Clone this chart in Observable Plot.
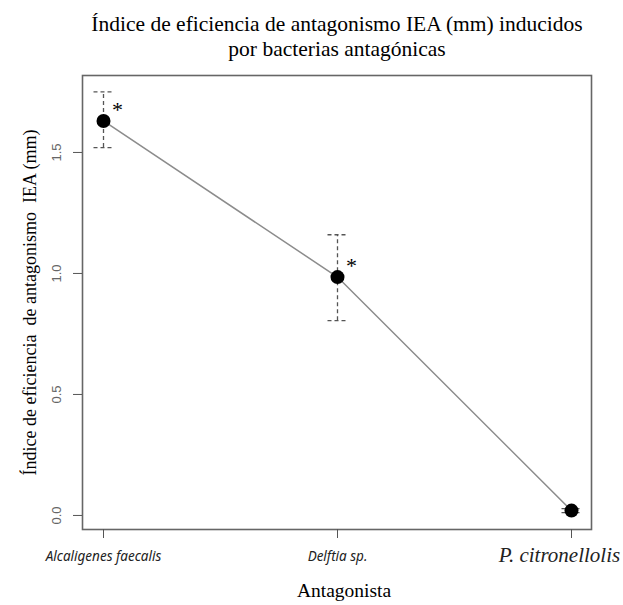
<!DOCTYPE html>
<html><head><meta charset="utf-8">
<script src="https://cdn.jsdelivr.net/npm/d3@7"></script>
<script src="https://cdn.jsdelivr.net/npm/@observablehq/plot@0.6"></script>
<style>body{margin:0;background:#fff}</style>
</head><body><div id="chart"></div>
<script>
const antagonists = ["Alcaligenes faecalis", "Delftia sp.", "P. citronellolis"];
const means = [1.63, 0.985, 0.02];
const lower = [1.52, 0.805, 0.012];
const upper = [1.75, 1.16, 0.028];
const signif = [true, true, false];
const yTicks = [0, 0.5, 1.0, 1.5];
const titleLines = ["Índice de eficiencia de antagonismo IEA (mm) inducidos", "por bacterias antagónicas"];
const yLabel = "Índice de eficiencia  de antagonismo  IEA (mm)";
const xLabel = "Antagonista";

const data = antagonists.map((a, i) => ({a, m: means[i], lo: lower[i], hi: upper[i], s: signif[i]}));
const cap = {draw(ctx, size) { const r = 10; ctx.moveTo(-r, 0); ctx.lineTo(r, 0); }};
const serif = "'Liberation Serif', 'Times New Roman', serif";

const chart = Plot.plot({
  width: 623,
  height: 605,
  marginLeft: 82,
  marginRight: 32,
  marginTop: 75,
  marginBottom: 76,
  style: {background: "#fff", color: "#000"},
  x: {type: "point", domain: antagonists, padding: 0.083},
  y: {domain: [-0.058, 1.818]},
  marks: [
    Plot.frame({stroke: "#666", strokeWidth: 1.6}),
    Plot.axisY(yTicks, {tickSize: 9, tickRotate: -90, tickPadding: 13, tickFormat: d3.format(".1f"),
      label: null, fontSize: 13, fontFamily: "'Liberation Sans', Arial, sans-serif", fill: "#666", stroke: "#555"}),
    Plot.axisX({tickSize: 9, tickFormat: () => "", label: null, stroke: "#555"}),
    Plot.ruleX(data, {x: "a", y1: "lo", y2: "hi", stroke: "#555", strokeDasharray: "4,3", strokeWidth: 1.3}),
    Plot.dot(data, {x: "a", y: "lo", symbol: cap, fill: "none", stroke: "#555", strokeDasharray: "4,3", strokeWidth: 1.3}),
    Plot.dot(data, {x: "a", y: "hi", symbol: cap, fill: "none", stroke: "#555", strokeDasharray: "4,3", strokeWidth: 1.3}),
    Plot.line(data, {x: "a", y: "m", stroke: "#8c8c8c", strokeWidth: 1.5}),
    Plot.dot(data, {x: "a", y: "m", r: 7, fill: "#000", stroke: "none"}),
    Plot.text(data.filter(d => d.s), {x: "a", y: "m", text: () => "*", dx: 14, dy: -11, fontSize: 22, fontFamily: serif}),
    Plot.text(data.slice(0, 2), {x: "a", text: "a", frameAnchor: "bottom", lineAnchor: "middle", dy: 27, fontStyle: "italic",
      fontSize: 13.5, fontFamily: "'Noto Sans', sans-serif", fill: "#222"}),
    Plot.text(data.slice(2), {x: "a", text: "a", frameAnchor: "bottom", lineAnchor: "middle", dy: 26, dx: -12, fontStyle: "italic",
      fontSize: 21, fontFamily: serif, fill: "#222"}),
    Plot.text([xLabel], {frameAnchor: "bottom", lineAnchor: "middle", dy: 61, dx: 7, fontSize: 19.5, fontFamily: serif}),
    Plot.text([yLabel], {frameAnchor: "left", lineAnchor: "middle", textAnchor: "middle", dx: -52, rotate: -90, fontSize: 18, fontFamily: serif}),
    Plot.text([titleLines.join("\n")], {frameAnchor: "top", lineAnchor: "middle", dy: -40, fontSize: 21.5, lineHeight: 1.18, fontFamily: serif})
  ]
});
document.getElementById("chart").append(chart);
</script>
</body></html>
